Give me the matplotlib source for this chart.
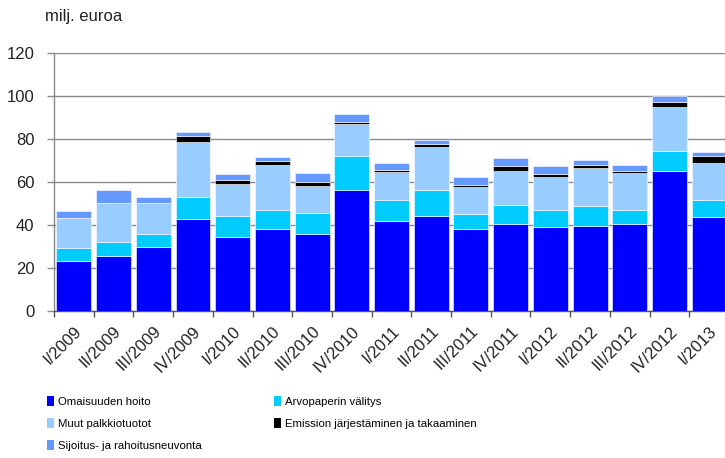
import matplotlib
matplotlib.use("Agg")
import matplotlib.pyplot as plt
from matplotlib.patches import Patch
import numpy as np

plt.rcParams['font.family'] = ['Liberation Sans', 'DejaVu Sans']

categories = ["I/2009", "II/2009", "III/2009", "IV/2009", "I/2010", "II/2010", "III/2010", "IV/2010",
              "I/2011", "II/2011", "III/2011", "IV/2011", "I/2012", "II/2012", "III/2012", "IV/2012", "I/2013"]

omaisuuden = [23.3, 25.5, 30.0, 42.8, 34.5, 38.1, 35.9, 56.3, 41.9, 44.2, 38.1, 40.5, 39.2, 39.7, 40.5, 65.3, 43.5]
arvopaperin = [6.0, 6.5, 5.8, 10.4, 9.7, 9.0, 9.8, 15.6, 9.9, 12.1, 6.8, 9.0, 7.9, 9.0, 6.6, 8.9, 8.3]
muut = [14.1, 18.1, 14.3, 25.3, 14.9, 21.0, 12.6, 14.9, 12.7, 20.1, 12.8, 15.7, 15.1, 17.9, 17.3, 20.9, 16.9]
emission = [0.0, 0.0, 0.0, 3.0, 1.6, 1.7, 1.9, 1.1, 1.0, 1.1, 0.9, 2.3, 1.6, 1.5, 0.9, 2.1, 3.2]
sijoitus = [2.9, 6.1, 2.9, 1.6, 2.8, 1.9, 4.0, 3.6, 3.4, 2.2, 3.5, 3.6, 3.5, 2.2, 2.8, 2.7, 2.2]

series_names = ["Omaisuuden hoito", "Arvopaperin välitys", "Muut palkkiotuotot",
                "Emission järjestäminen ja takaaminen", "Sijoitus- ja rahoitusneuvonta"]
series = [omaisuuden, arvopaperin, muut, emission, sijoitus]
colors = ["#0000FF", "#00CCFF", "#99CCFF", "#000000", "#6699FF"]

fig = plt.figure(figsize=(7.25, 4.58), dpi=100)
ax = fig.add_axes([54/725, 1-311/458, 675/725, 258/458])

x = np.arange(len(categories))
bottom = np.zeros(len(categories))
for vals, col in zip(series, colors):
    v = np.array(vals)
    ax.bar(x, v, bottom=bottom, width=0.88, color=col, edgecolor='white', linewidth=0.4, zorder=3)
    bottom += v

ax.set_xlim(-0.5, len(categories) - 0.5)
ax.set_ylim(0, 120)
ax.set_yticks(np.arange(0, 121, 20))
ax.yaxis.grid(True, color='#8a8a8a', linewidth=1.0, zorder=0)
ax.set_axisbelow(True)
for s in ['top', 'right']:
    ax.spines[s].set_visible(False)
for s in ['left', 'bottom']:
    ax.spines[s].set_color('#8a8a8a')
    ax.spines[s].set_linewidth(1.0)
ax.spines['bottom'].set_color('#555555')

ax.set_xticks(x)
ax.set_xticklabels(categories, rotation=45, ha='right', rotation_mode='anchor', fontsize=12, color='#222222')
ax.set_xticks(np.arange(-0.5, len(categories), 1), minor=True)
ax.tick_params(axis='x', which='major', length=0, pad=9)
ax.tick_params(axis='x', which='minor', length=4, color='#555555', width=1)
ax.tick_params(axis='y', length=5, width=1, labelsize=12, pad=9, colors='#8a8a8a', labelcolor='#222222')

fig.text(45/725, 1-17/458, "milj. euroa", fontsize=12, va='center', ha='left', color='#222222')

order = [0, 2, 4, 1, 3]
handles = [Patch(facecolor=colors[i], edgecolor='none') for i in order]
labels = [series_names[i] for i in order]
fig.legend(handles, labels, loc='upper left', bbox_to_anchor=(47/725, 1-396/458), ncol=2,
           frameon=False, fontsize=8.2, handlelength=0.6, handleheight=1.0, handletextpad=0.4,
           labelspacing=0.95, columnspacing=6.3, borderaxespad=0, borderpad=0)

fig.savefig("out.png", dpi=100)
